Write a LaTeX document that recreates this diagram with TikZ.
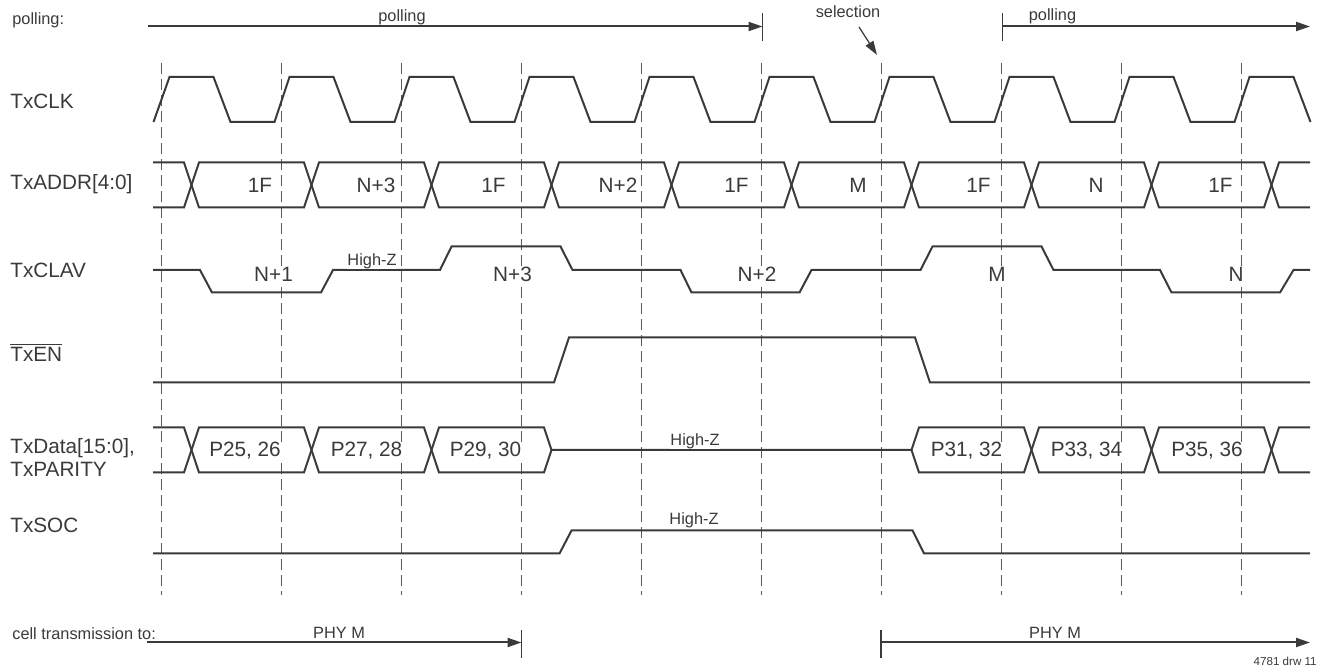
\documentclass[tikz,border=0pt]{standalone}
\usepackage{fontspec}
\setmainfont{Liberation Sans}
\usetikzlibrary{arrows.meta}

\definecolor{wavegray}{HTML}{3A3A3A}
\definecolor{gridgray}{HTML}{5A5A5A}

\tikzset{
  wave/.style={line width=0.04cm, draw=wavegray, line join=miter},
  guide/.style={line width=0.022cm, draw=gridgray, dash pattern=on 0.22cm off 0.1cm},
  span/.style={line width=0.04cm, draw=wavegray, -{Triangle[length=0.28cm,width=0.18cm]}},
  tick/.style={line width=0.025cm, draw=wavegray},
  siglabel/.style={anchor=west, inner sep=0pt, text=wavegray, font=\fontsize{11.8}{13.2}\selectfont},
  vallabel/.style={inner sep=0.5pt, fill=white, text=wavegray, font=\fontsize{11.8}{13.2}\selectfont},
  smalllabel/.style={inner sep=0.5pt, fill=white, text=wavegray, font=\fontsize{9.3}{11}\selectfont},
  toplabel/.style={inner sep=0pt, text=wavegray, font=\fontsize{9.3}{11}\selectfont},
}

\begin{document}
\begin{tikzpicture}
    % \clip (0,0) rectangle (26.54,13.40);
    \useasboundingbox (0,0) rectangle (26.54,13.40);

    % Drawing guide lines
    \draw [guide] (3.23,12.14) -- (3.23,1.50);%
    \draw [guide] (5.63,12.14) -- (5.63,1.50);%
    \draw [guide] (8.03,12.14) -- (8.03,1.50);%
    \draw [guide] (10.43,12.14) -- (10.43,1.50);%
    \draw [guide] (12.83,12.14) -- (12.83,1.50);%
    \draw [guide] (15.23,12.14) -- (15.23,1.50);%
    \draw [guide] (17.63,12.14) -- (17.63,1.50);%
    \draw [guide] (20.03,12.14) -- (20.03,1.50);%
    \draw [guide] (22.43,12.14) -- (22.43,1.50);%
    \draw [guide] (24.83,12.14) -- (24.83,1.50);%

    % Marking signal names
    \node [siglabel] (lclk) at (0.20,11.37) {TxCLK};%
    \node [siglabel] (laddr) at (0.20,9.72) {TxADDR[4:0]};%
    \node [siglabel] (lclav) at (0.20,8.00) {TxCLAV};%
    \node [siglabel] (len) at (0.20,6.35) {$\overline{\mbox{TxEN}}$};%
    \node [siglabel, align=left] (ldata) at (0.20,4.25) {TxData[15:0],\\TxPARITY};%
    \node [siglabel] (lsoc) at (0.20,2.90) {TxSOC};%

    % Drawing polling arrows
    \node [toplabel, anchor=west] (lpoll) at (0.24,13.00) {polling:};%
    \coordinate (pollA) at (2.96,12.87);
    \coordinate (pollB) at (15.25,12.87);
    \draw [span] (pollA) -- (pollB);%
    \draw [tick] (15.25,13.13) -- (15.25,12.57);%
    \node [toplabel] (poll1) at (8.04,13.05) {polling};%
    \coordinate (pollC) at (20.05,12.87);
    \coordinate (pollD) at (26.20,12.87);
    \draw [span] (pollC) -- (pollD);%
    \draw [tick] (20.05,13.13) -- (20.05,12.57);%
    \node [toplabel] (poll2) at (21.05,13.07) {polling};%

    % Drawing selection pointer
    \node [toplabel] (sel) at (16.96,13.17) {selection};%
    \coordinate (selA) at (17.18,12.86);
    \coordinate (selB) at (17.54,12.30);
    \draw [span, line width=0.025cm] (selA) -- (selB);%

    % Drawing TxCLK
    \draw [wave] (3.07,10.96) -- (3.39,11.86) -- (4.27,11.86) -- (4.61,10.96) -- (5.49,10.96)
        -- (5.79,11.86) -- (6.67,11.86) -- (7.01,10.96) -- (7.89,10.96)
        -- (8.19,11.86) -- (9.07,11.86) -- (9.41,10.96) -- (10.29,10.96)
        -- (10.59,11.86) -- (11.47,11.86) -- (11.81,10.96) -- (12.69,10.96)
        -- (12.99,11.86) -- (13.87,11.86) -- (14.21,10.96) -- (15.09,10.96)
        -- (15.39,11.86) -- (16.27,11.86) -- (16.61,10.96) -- (17.49,10.96)
        -- (17.79,11.86) -- (18.67,11.86) -- (19.01,10.96) -- (19.89,10.96)
        -- (20.19,11.86) -- (21.07,11.86) -- (21.41,10.96) -- (22.29,10.96)
        -- (22.59,11.86) -- (23.47,11.86) -- (23.81,10.96) -- (24.69,10.96)
        -- (24.99,11.86) -- (25.87,11.86) -- (26.21,10.96);%

    % Drawing TxADDR bus
    \draw [wave] (3.06,10.15) -- (3.68,10.15) -- (3.98,9.25) -- (6.08,9.25) -- (6.38,10.15)
        -- (8.48,10.15) -- (8.78,9.25) -- (10.88,9.25) -- (11.18,10.15) -- (13.28,10.15)
        -- (13.58,9.25) -- (15.68,9.25) -- (15.98,10.15) -- (18.08,10.15) -- (18.38,9.25)
        -- (20.48,9.25) -- (20.78,10.15) -- (22.88,10.15) -- (23.18,9.25) -- (25.28,9.25)
        -- (25.58,10.15) -- (26.20,10.15);%
    \draw [wave] (3.06,9.25) -- (3.68,9.25) -- (3.98,10.15) -- (6.08,10.15) -- (6.38,9.25)
        -- (8.48,9.25) -- (8.78,10.15) -- (10.88,10.15) -- (11.18,9.25) -- (13.28,9.25)
        -- (13.58,10.15) -- (15.68,10.15) -- (15.98,9.25) -- (18.08,9.25) -- (18.38,10.15)
        -- (20.48,10.15) -- (20.78,9.25) -- (22.88,9.25) -- (23.18,10.15) -- (25.28,10.15)
        -- (25.58,9.25) -- (26.20,9.25);%
    \node [vallabel] (a1) at (5.20,9.70) {1F};%
    \node [vallabel] (a2) at (7.52,9.70) {N+3};%
    \node [vallabel] (a3) at (9.87,9.70) {1F};%
    \node [vallabel] (a4) at (12.36,9.70) {N+2};%
    \node [vallabel] (a5) at (14.73,9.70) {1F};%
    \node [vallabel] (a6) at (17.16,9.70) {M};%
    \node [vallabel] (a7) at (19.57,9.70) {1F};%
    \node [vallabel] (a8) at (21.92,9.70) {N};%
    \node [vallabel] (a9) at (24.41,9.70) {1F};%

    % Drawing TxCLAV
    \draw [wave] (3.06,8.00) -- (4.00,8.00) -- (4.24,7.55) -- (6.42,7.55) -- (6.66,8.00)
        -- (8.80,8.00) -- (9.03,8.47) -- (11.21,8.47) -- (11.45,8.00) -- (13.61,8.00)
        -- (13.83,7.55) -- (15.99,7.55) -- (16.23,8.00) -- (18.41,8.00) -- (18.65,8.47)
        -- (20.83,8.47) -- (21.07,8.00) -- (23.20,8.00) -- (23.43,7.55) -- (25.60,7.55)
        -- (25.87,8.00) -- (26.20,8.00);%
    \node [vallabel] (c1) at (5.47,7.92) {N+1};%
    \node [smalllabel] (c2) at (7.44,8.18) {High-Z};%
    \node [vallabel] (c3) at (10.25,7.92) {N+3};%
    \node [vallabel] (c4) at (15.14,7.92) {N+2};%
    \node [vallabel] (c5) at (19.94,7.92) {M};%
    \node [vallabel] (c6) at (24.72,7.92) {N};%

    % Drawing TxEN
    \draw [wave] (3.06,5.75) -- (11.08,5.75) -- (11.38,6.65) -- (18.30,6.65) -- (18.60,5.75) -- (26.20,5.75);%

    % Drawing TxData bus
    \draw [wave] (3.06,4.85) -- (3.68,4.85) -- (3.98,3.95) -- (6.08,3.95) -- (6.38,4.85)
        -- (8.48,4.85) -- (8.78,3.95) -- (10.88,3.95) -- (11.03,4.40) -- (18.23,4.40)
        -- (18.38,4.85) -- (20.48,4.85) -- (20.78,3.95) -- (22.88,3.95) -- (23.18,4.85)
        -- (25.28,4.85) -- (25.58,3.95) -- (26.20,3.95);%
    \draw [wave] (3.06,3.95) -- (3.68,3.95) -- (3.98,4.85) -- (6.08,4.85) -- (6.38,3.95)
        -- (8.48,3.95) -- (8.78,4.85) -- (10.88,4.85) -- (11.03,4.40);%
    \draw [wave] (18.23,4.40) -- (18.38,3.95) -- (20.48,3.95) -- (20.78,4.85) -- (22.88,4.85)
        -- (23.18,3.95) -- (25.28,3.95) -- (25.58,4.85) -- (26.20,4.85);%
    \node [vallabel] (d1) at (4.90,4.38) {P25, 26};%
    \node [vallabel] (d2) at (7.33,4.38) {P27, 28};%
    \node [vallabel] (d3) at (9.71,4.38) {P29, 30};%
    \node [smalllabel] (d4) at (13.90,4.58) {High-Z};%
    \node [vallabel] (d5) at (19.33,4.38) {P31, 32};%
    \node [vallabel] (d6) at (21.73,4.38) {P33, 34};%
    \node [vallabel] (d7) at (24.14,4.38) {P35, 36};%

    % Drawing TxSOC
    \draw [wave] (3.06,2.33) -- (11.19,2.33) -- (11.43,2.79) -- (18.25,2.79) -- (18.48,2.33) -- (26.20,2.33);%
    \node [smalllabel] (s1) at (13.88,3.00) {High-Z};%

    % Drawing cell transmission arrows
    \node [toplabel, anchor=west] (lcell) at (0.24,0.72) {cell transmission to:};%
    \coordinate (cellA) at (2.93,0.55);
    \coordinate (cellB) at (10.43,0.55);
    \draw [span] (cellA) -- (cellB);%
    \draw [tick] (10.43,0.80) -- (10.43,0.24);%
    \node [toplabel] (phy1) at (6.78,0.75) {PHY M};%
    \coordinate (cellC) at (17.62,0.55);
    \coordinate (cellD) at (26.20,0.55);
    \draw [span] (cellC) -- (cellD);%
    \draw [tick] (17.62,0.80) -- (17.62,0.24);%
    \node [toplabel] (phy2) at (21.10,0.75) {PHY M};%

    % Marking drawing number
    \node [anchor=east, inner sep=0pt, text=wavegray, font=\fontsize{6.6}{8}\selectfont] (drw) at (26.34,0.17) {4781 drw 11};%
\end{tikzpicture}
\end{document}
